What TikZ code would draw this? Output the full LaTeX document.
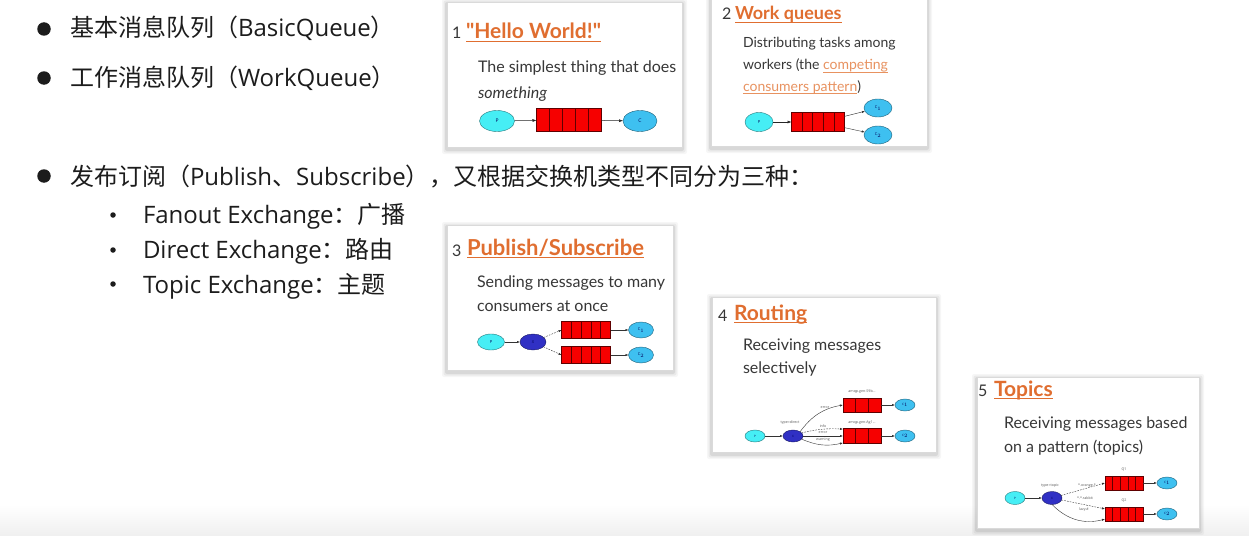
\documentclass[tikz,border=0pt]{standalone}
\usepackage{fontspec}
\usetikzlibrary{shapes.geometric,arrows.meta,calc}
\setmainfont{Open Sans}
\newfontfamily\cjkfont{Noto Sans CJK SC}
\newfontfamily\cardfont{Lato}

\definecolor{listink}{RGB}{28,28,28}
\definecolor{titleorange}{RGB}{224,110,48}
\definecolor{linkorange}{RGB}{232,146,96}
\definecolor{bodygrey}{RGB}{55,55,55}
\definecolor{pcyan}{RGB}{70,238,245}
\definecolor{ccyan}{RGB}{62,192,240}
\definecolor{xblue}{RGB}{48,48,196}
\definecolor{qred}{RGB}{246,0,0}
\definecolor{qedge}{RGB}{95,0,0}
\definecolor{cardline}{RGB}{218,218,218}

\newcommand\zh[1]{{\cjkfont #1}}
% text with a rule beneath it: depth, thickness, text
\newcommand\ruled[3]{{\setbox0\hbox{#3}\rlap{\rule[-#1]{\wd0}{#2}}\box0}}
\newcommand\ttl[1]{\ruled{3.4pt}{1.6pt}{#1}}
\newcommand\lnk[1]{{\color{linkorange}\ruled{2.6pt}{0.7pt}{#1}}}
% white card with a soft grey shadow
\newcommand\cardbox[4]{%
  \foreach \s/\o in {5/0.035,3.5/0.05,2/0.07}{%
    \fill[black,opacity=\o,rounded corners=2pt] (#1-\s,#2-\s+2) rectangle (#3+\s,#4+\s+2);}
  \filldraw[card] (#1,#2) rectangle (#3,#4);}

\begin{document}
\begin{tikzpicture}[x=1pt,y=-1pt,
  every node/.style={inner sep=0pt,outer sep=0pt},
  card/.style={draw=cardline,line width=0.6pt,fill=white},
  bigdot/.style={circle,fill=listink,minimum size=13.5pt},
  smalldot/.style={circle,fill=listink,minimum size=5.5pt},
  listtext/.style={anchor=base west,text=listink,font=\fontsize{24}{24}\selectfont},
  cardnum/.style={anchor=base west,text=bodygrey,font=\cardfont\fontsize{16}{16}\selectfont},
  cardtitle/.style={anchor=base west,text=titleorange,font=\cardfont\bfseries\fontsize{21}{21}\selectfont},
  carddesc/.style={anchor=base west,text=bodygrey,font=\cardfont\fontsize{16}{16}\selectfont},
  blob/.style={ellipse,line width=0.4pt,text=blue!35!black,font=\fontsize{4}{4}\selectfont},
  pnode/.style={blob,fill=pcyan,draw=pcyan!50!black},
  cnode/.style={blob,fill=ccyan,draw=ccyan!50!black},
  xnode/.style={blob,fill=xblue,draw=xblue!50!black},
  queue/.style={rectangle,draw=qedge,fill=qred,line width=0.5pt,
    path picture={\foreach \k in {1,...,#1}{\draw[qedge,line width=0.5pt]
      ($(path picture bounding box.south west)!{\k/(#1+1)}!(path picture bounding box.south east)$) --
      ($(path picture bounding box.north west)!{\k/(#1+1)}!(path picture bounding box.north east)$);}}},
  queue/.default=4,
  flow/.style={-{Latex[length=4pt,width=3pt]},line width=0.5pt,black!85},
  smallflow/.style={-{Latex[length=3pt,width=2.2pt]},line width=0.4pt,black!80},
  dashflow/.style={smallflow,dash pattern=on 1.6pt off 1.2pt},
  tinylabel/.style={text=black!65,font=\fontsize{3.6}{3.6}\selectfont}
]
\useasboundingbox (0,0) rectangle (1249,535);
\fill[white] (0,0) rectangle (1249,535);
\shade[top color=white,bottom color=black!6] (0,505) rectangle (1249,535);

% ---------- bullet list ----------
\node[bigdot] (b1) at (44,29) {};
\node[listtext] (l1) at (70,37) {\zh{基本消息队列（}BasicQueue\zh{）}};
\node[bigdot] (b2) at (44,78) {};
\node[listtext] (l2) at (70,86) {\zh{工作消息队列（}WorkQueue\zh{）}};
\node[bigdot] (b3) at (44,176) {};
\node[listtext] (l3) at (70,185) {\zh{发布订阅（}Publish\zh{、}Subscribe\zh{），又根据交换机类型不同分为三种：}};
\node[smalldot] (s1) at (113,215) {};
\node[listtext] (m1) at (143,223) {Fanout Exchange\zh{：广播}};
\node[smalldot] (s2) at (113,250) {};
\node[listtext] (m2) at (143,258) {Direct Exchange\zh{：路由}};
\node[smalldot] (s3) at (113,284) {};
\node[listtext] (m3) at (143,293) {Topic Exchange\zh{：主题}};

% ---------- 1 Hello World ----------
\cardbox{447}{2}{682}{147}
\node[cardnum] (n1) at (452,39) {1};
\node[cardtitle] (t1) at (466,39) {\ttl{"Hello World!"}};
\node[carddesc] (d11) at (478,73) {The simplest thing that does};
\node[carddesc] (d12) at (478,98) {\textit{something}};
\node[pnode,minimum width=35pt,minimum height=21pt,font=\fontsize{5}{5}\selectfont] (p1) at (497,121) {P};
\node[queue,minimum width=65pt,minimum height=23pt] (q1) at (569,120) {};
\node[cnode,minimum width=34pt,minimum height=21pt,font=\fontsize{5}{5}\selectfont] (c1) at (640,121) {C};
\draw[flow] (p1) -- (q1);
\draw[flow] (q1) -- (c1);

% ---------- 2 Work queues ----------
\cardbox{711}{-6}{927}{146}
\node[cardnum] (n2) at (722,20) {2};
\node[cardtitle,font=\cardfont\bfseries\fontsize{18}{18}\selectfont] (t2) at (735,20) {\ttl{Work queues}};
\node[carddesc,font=\cardfont\fontsize{14}{14}\selectfont] (d21) at (743,48) {Distributing tasks among};
\node[carddesc,font=\cardfont\fontsize{14}{14}\selectfont] (d22) at (743,70) {workers (the \lnk{competing}};
\node[carddesc,font=\cardfont\fontsize{14}{14}\selectfont] (d23) at (743,91) {\lnk{consumers pattern})};
\node[pnode,minimum width=28pt,minimum height=19pt] (p2) at (759,122) {P};
\node[queue,minimum width=53pt,minimum height=19pt] (q2) at (818,122) {};
\node[cnode,minimum width=28pt,minimum height=18pt] (c21) at (878,108) {C$_1$};
\node[cnode,minimum width=28pt,minimum height=18pt] (c22) at (878,135) {C$_2$};
\draw[flow] (p2) -- (q2);
\draw[smallflow] (q2.12) -- (c21);
\draw[smallflow] (q2.-12) -- (c22);

% ---------- 3 Publish/Subscribe ----------
\cardbox{447}{225}{673}{370}
\node[cardnum] (n3) at (452,256) {3};
\node[cardtitle,font=\cardfont\bfseries\fontsize{22}{22}\selectfont] (t3) at (467,255) {\ttl{Publish/Subscribe}};
\node[carddesc] (d31) at (477,287) {Sending messages to many};
\node[carddesc] (d32) at (477,311) {consumers at once};
\node[pnode,minimum width=27pt,minimum height=16pt] (p3) at (491,342) {P};
\node[xnode,minimum width=26pt,minimum height=16pt] (x3) at (533,342) {X};
\node[queue,minimum width=49pt,minimum height=17pt] (q31) at (586,330) {};
\node[queue,minimum width=49pt,minimum height=17pt] (q32) at (586,355) {};
\node[cnode,minimum width=25pt,minimum height=16pt] (c31) at (641,330) {C$_1$};
\node[cnode,minimum width=25pt,minimum height=16pt] (c32) at (641,355) {C$_2$};
\draw[smallflow] (p3) -- (x3);
\draw[dashflow] (x3) -- (q31.west);
\draw[dashflow] (x3) -- (q32.west);
\draw[smallflow] (q31) -- (c31);
\draw[smallflow] (q32) -- (c32);

% ---------- 4 Routing ----------
\cardbox{712}{297}{936}{452}
\node[cardnum] (n4) at (718,321) {4};
\node[cardtitle] (t4) at (734,320) {\ttl{Routing}};
\node[carddesc] (d41) at (743,350) {Receiving messages};
\node[carddesc] (d42) at (743,373) {selectively};
\node[pnode,minimum width=20pt,minimum height=12pt,font=\fontsize{3}{3}\selectfont] (p4) at (755,436) {P};
\node[xnode,minimum width=20pt,minimum height=12pt,font=\fontsize{3}{3}\selectfont] (x4) at (793,436) {X};
\node[queue=2,minimum width=38pt,minimum height=14pt] (q41) at (862,405) {};
\node[queue=2,minimum width=38pt,minimum height=15pt] (q42) at (862,436) {};
\node[cnode,minimum width=20pt,minimum height=12pt,font=\fontsize{3}{3}\selectfont] (c41) at (905,405) {C$_1$};
\node[cnode,minimum width=20pt,minimum height=12pt,font=\fontsize{3}{3}\selectfont] (c42) at (905,436) {C$_2$};
\node[tinylabel] (a41) at (862,392) {amqp.gen-S9b...};
\node[tinylabel] (a42) at (862,423) {amqp.gen-Ag1...};
\node[tinylabel] (ty4) at (790,423) {type=direct};
\draw[smallflow] (p4) -- (x4);
\draw[smallflow] (x4.north east) to[bend left=22] (q41.west);
\draw[dashflow] (x4.20) to[bend left=8] (q42.160);
\draw[smallflow] (x4) -- (q42.west);
\draw[smallflow] (x4.-20) to[bend right=18] (q42.200);
\draw[smallflow] (q41) -- (c41);
\draw[smallflow] (q42) -- (c42);
\node[tinylabel] (e41) at (825,408) {error};
\node[tinylabel] (i42) at (823,426) {info};
\node[tinylabel] (e42) at (823,433) {error};
\node[tinylabel] (w42) at (823,440) {warning};

% ---------- 5 Topics ----------
\cardbox{977}{377}{1199}{528}
\node[cardnum] (n5) at (978,396) {5};
\node[cardtitle] (t5) at (994,396) {\ttl{Topics}};
\node[carddesc] (d51) at (1004,428) {Receiving messages based};
\node[carddesc] (d52) at (1004,452) {on a pattern (topics)};
\node[pnode,minimum width=20pt,minimum height=13pt,font=\fontsize{3}{3}\selectfont] (p5) at (1015,498) {P};
\node[xnode,minimum width=20pt,minimum height=13pt,font=\fontsize{3}{3}\selectfont] (x5) at (1052,498) {X};
\node[queue,minimum width=38pt,minimum height=14pt] (q51) at (1124,483) {};
\node[queue,minimum width=38pt,minimum height=14pt] (q52) at (1124,514) {};
\node[cnode,minimum width=20pt,minimum height=12pt,font=\fontsize{3}{3}\selectfont] (c51) at (1167,483) {C$_1$};
\node[cnode,minimum width=20pt,minimum height=12pt,font=\fontsize{3}{3}\selectfont] (c52) at (1167,514) {C$_2$};
\node[tinylabel] (qa5) at (1124,469) {Q1};
\node[tinylabel] (qb5) at (1124,500) {Q2};
\node[tinylabel] (ty5) at (1050,486) {type=topic};
\draw[smallflow] (p5) -- (x5);
\draw[dashflow] (x5) -- (q51.west);
\draw[dashflow] (x5) -- (q52.165);
\draw[smallflow] (x5.south) to[bend right=30] (q52.195);
\draw[smallflow] (q51) -- (c51);
\draw[smallflow] (q52) -- (c52);
\node[tinylabel] (o5) at (1087,486) {*.orange.*};
\node[tinylabel] (r5) at (1085,498) {*.*.rabbit};
\node[tinylabel] (z5) at (1084,510) {lazy.\#};
\end{tikzpicture}
\end{document}
